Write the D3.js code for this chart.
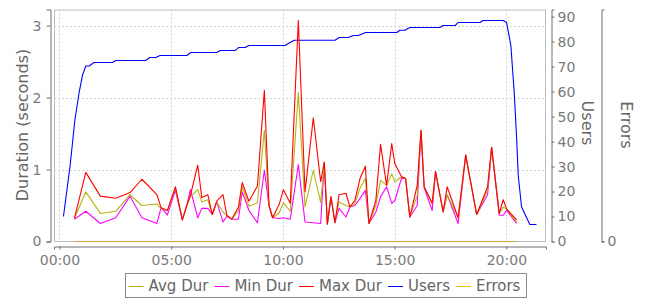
<!DOCTYPE html>
<html><head><meta charset="utf-8">
<script src="https://cdn.jsdelivr.net/npm/d3@7"></script>
<style>
html,body{margin:0;padding:0;background:#fff;}
svg{display:block;font-family:"DejaVu Sans",sans-serif;}
</style></head>
<body><svg id="c" width="650" height="300"></svg>
<script>
// ---- data (time in minutes since start) ----
const durTimes = [0.67,1.18,1.83,2.52,3.16,3.69,4.36,4.55,4.83,5.19,5.50,5.70,5.86,6.19,6.37,6.64,6.84,7.04,7.32,7.49,7.71,8.01,8.18,8.48,8.86,9.17,9.38,9.54,9.84,10.02,10.33,10.69,10.99,11.36,11.69,11.85,11.99,12.15,12.33,12.51,12.82,13.00,13.22,13.45,13.69,13.85,14.16,14.37,14.64,14.87,15.01,15.31,15.49,15.68,16.01,16.18,16.32,16.68,16.83,17.17,17.35,17.84,18.18,18.67,19.16,19.34,19.68,19.86,20.01,20.46];
const maxDur = [0.32,0.96,0.63,0.60,0.68,0.865,0.65,0.47,0.43,0.76,0.30,0.50,0.64,1.06,0.61,0.65,0.375,0.56,0.65,0.365,0.31,0.48,0.82,0.56,0.77,2.10,0.50,0.33,0.52,0.72,0.53,3.07,0.69,1.72,0.83,1.10,0.24,0.62,0.26,0.65,0.67,0.48,0.57,0.875,1.045,0.25,0.57,1.35,0.78,1.36,1.08,0.90,0.875,0.34,0.78,1.545,0.76,0.53,0.97,0.41,0.76,0.33,1.20,0.375,0.76,1.31,0.39,0.58,0.45,0.30];
const avgDur = [0.32,0.69,0.39,0.42,0.65,0.50,0.52,0.46,0.43,0.75,0.30,0.50,0.62,0.72,0.55,0.58,0.375,0.55,0.41,0.36,0.31,0.43,0.76,0.49,0.54,1.545,0.49,0.33,0.40,0.54,0.42,2.07,0.48,0.99,0.54,1.10,0.24,0.62,0.26,0.55,0.50,0.48,0.53,0.74,0.875,0.25,0.50,0.85,0.78,0.94,0.83,0.90,0.875,0.34,0.64,1.54,0.76,0.53,0.97,0.41,0.65,0.33,1.20,0.375,0.71,1.31,0.39,0.48,0.45,0.27];
const minDur = [0.31,0.42,0.25,0.33,0.63,0.33,0.25,0.47,0.37,0.71,0.30,0.50,0.72,0.33,0.46,0.46,0.375,0.55,0.27,0.35,0.31,0.31,0.69,0.43,0.26,0.99,0.49,0.33,0.32,0.33,0.31,1.07,0.27,0.26,0.25,1.10,0.24,0.62,0.26,0.46,0.34,0.48,0.50,0.60,0.71,0.25,0.41,0.62,0.76,0.53,0.57,0.88,0.875,0.34,0.50,1.54,0.75,0.43,0.97,0.41,0.65,0.25,1.20,0.375,0.65,1.31,0.365,0.365,0.43,0.25];
const errors = [0,0,0,0,0,0,0,0,0,0,0,0,0,0,0,0,0,0,0,0,0,0,0,0,0,0,0,0,0,0,0,0,0,0,0,0,0,0,0,0,0,0,0,0,0,0,0,0,0,0,0,0,0,0,0,0,0,0,0,0,0,0,0,0,0,0,0,0,0,0];
const userTimes = [0.18,0.48,0.69,0.88,1.03,1.18,1.33,1.55,2.37,2.52,3.86,4.04,4.31,4.50,5.70,5.88,7.04,7.19,7.86,8.01,8.31,8.48,10.09,10.32,10.51,12.33,12.52,12.92,13.15,13.37,13.70,15.09,15.24,15.46,15.68,17.03,17.17,17.70,17.84,18.82,18.96,19.86,20.01,20.20,20.35,20.46,20.53,20.68,21.05,21.35];
const users = [10,30.5,48.5,59.6,66.5,70.2,70.2,71.6,71.6,72.4,72.4,73.6,73.6,74.4,74.4,75.6,75.6,76.4,76.4,77.6,77.6,78.4,78.4,79.6,80.5,80.5,81.6,81.6,82.4,82.4,83.6,83.6,84.5,84.5,85.6,85.6,86.4,86.4,87.6,87.6,88.4,88.4,87.6,78.5,59.8,41.2,26.5,13.8,6.8,6.8];
const xTicks = [0,5,10,15,20];
const xTickLabels = ["00:00","05:00","10:00","15:00","20:00"];
const durTicks = [0,1,2,3];
const userTicks = [0,10,20,30,40,50,60,70,80,90];
const errTicks = [0];
const seriesNames = ["Avg Dur","Min Dur","Max Dur","Users","Errors"];
const seriesColors = ["#b4b414","#ff00ff","#ff0000","#0000ff","#f2c010"];

// ---- layout ----
const L = 54, R = 546, T = 9.5, B = 241.5;
const svg = d3.select("#c");
const allT = durTimes.concat(userTimes);
const tMin = d3.min(allT), tMax = d3.max(allT), span = tMax - tMin;
const x = d3.scaleLinear().domain([tMin - 0.02*span, tMax + 0.02*span]).range([L, R]);
const yD = d3.scaleLinear().domain([0, d3.max(maxDur)*1.05]).range([B, T]);
const yU = d3.scaleLinear().domain([0, d3.max(users)*1.05]).range([B, T]);
const yE = d3.scaleLinear().domain([0, 1]).range([B, T]);

const gridC = "#d4d4d4", axisC = "#6e6e6e", labC = "#7a7a7a", titleC = "#666";

// plot background & grid
svg.append("rect").attr("x",L).attr("y",T).attr("width",R-L).attr("height",B-T).attr("fill","#fff");
svg.append("g").selectAll("line").data(xTicks).join("line")
  .attr("x1",d=>Math.round(x(d))+0.5).attr("x2",d=>Math.round(x(d))+0.5)
  .attr("y1",T).attr("y2",B).attr("stroke",gridC).attr("stroke-dasharray","2,2");
svg.append("g").selectAll("line").data(durTicks.filter(d=>d>0)).join("line")
  .attr("y1",d=>Math.round(yD(d))+0.5).attr("y2",d=>Math.round(yD(d))+0.5)
  .attr("x1",L).attr("x2",R).attr("stroke",gridC).attr("stroke-dasharray","2,2");
svg.append("rect").attr("x",L+0.5).attr("y",T+0.5).attr("width",R-L-1).attr("height",B-T-0.5)
  .attr("fill","none").attr("stroke","#bdbdbd");

// lines
const mk = (ys, yScale, ts) => d3.line().x((d,i)=>x(ts[i])).y(d=>yScale(d))(ys);
const drawLine = (ys, yScale, ts, col) => svg.append("path").attr("d", mk(ys, yScale, ts))
  .attr("fill","none").attr("stroke",col).attr("stroke-width",1.1).attr("stroke-linejoin","round");
drawLine(users, yU, userTimes, seriesColors[3]);
drawLine(minDur, yD, durTimes, seriesColors[1]);
drawLine(avgDur, yD, durTimes, seriesColors[0]);
drawLine(maxDur, yD, durTimes, seriesColors[2]);
drawLine(errors, yE, durTimes, "#c8a43c");

// axes
function styleAxis(g){
  g.selectAll(".domain").attr("stroke",axisC);
  g.selectAll(".tick line").attr("stroke",axisC);
  g.selectAll(".tick text").attr("fill",labC).attr("font-size","14px").attr("font-family","DejaVu Sans");
}
const gx = svg.append("g").attr("transform",`translate(0,246.5)`)
  .call(d3.axisBottom(x).tickValues(xTicks).tickFormat((d,i)=>xTickLabels[i]).tickSizeOuter(0).tickSize(3).tickPadding(6));
styleAxis(gx);
const gy = svg.append("g").attr("transform",`translate(50.5,0)`)
  .call(d3.axisLeft(yD).tickValues(durTicks).tickFormat(d3.format("d")).tickSizeOuter(0).tickSize(4).tickPadding(5));
styleAxis(gy);
const gu = svg.append("g").attr("transform",`translate(551.5,0)`)
  .call(d3.axisRight(yU).tickValues(userTicks).tickFormat(d3.format("d")).tickSizeOuter(0).tickSize(3).tickPadding(3));
styleAxis(gu);
const ge = svg.append("g").attr("transform",`translate(601.5,0)`)
  .call(d3.axisRight(yE).tickValues(errTicks).tickFormat(d3.format("d")).tickSizeOuter(0).tickSize(3).tickPadding(3));
styleAxis(ge);

// titles
svg.append("text").attr("transform","translate(22,125) rotate(-90)").attr("text-anchor","middle")
  .attr("dominant-baseline","central").attr("font-size","16px").attr("fill",titleC).text("Duration (seconds)");
svg.append("text").attr("transform","translate(587,123) rotate(90)").attr("text-anchor","middle")
  .attr("dominant-baseline","central").attr("font-size","16px").attr("fill",titleC).text("Users");
svg.append("text").attr("transform","translate(626,125) rotate(90)").attr("text-anchor","middle")
  .attr("dominant-baseline","central").attr("font-size","16px").attr("fill",titleC).text("Errors");

// legend
const lg = svg.append("g");
let cx = 0; const items = [];
seriesNames.forEach((n,i)=>{
  const g = lg.append("g").attr("transform",`translate(${cx},0)`);
  g.append("line").attr("x1",0).attr("x2",15).attr("y1",286.5).attr("y2",286.5).attr("stroke",seriesColors[i]);
  const t = g.append("text").attr("x",20).attr("y",286).attr("dominant-baseline","central")
    .attr("font-size","15px").attr("fill","#666").text(n);
  const w = t.node().getComputedTextLength();
  cx += 20 + w + 6;
});
const totalW = cx - 6;
const lx = 325 - (totalW + 9)/2;
lg.attr("transform",`translate(${lx+4},0)`);
svg.insert("rect", () => lg.node()).attr("x",Math.round(lx)+0.5).attr("y",273.5)
  .attr("width",Math.round(totalW+9)).attr("height",24).attr("fill","#fff").attr("stroke","#8a8a8a");
</script></body></html>
